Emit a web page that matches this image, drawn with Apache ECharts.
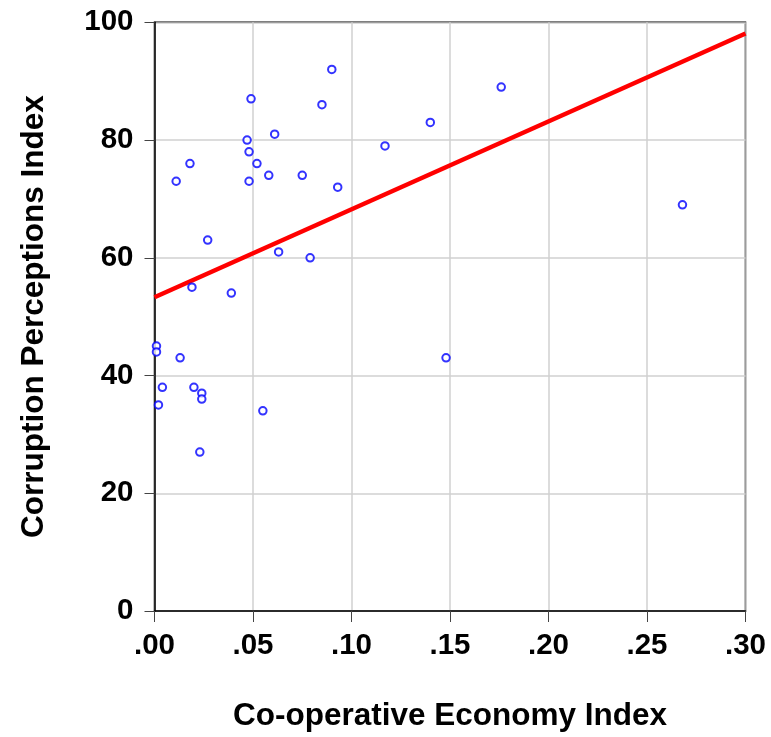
<!DOCTYPE html>
<html>
<head>
<meta charset="utf-8">
<script src="https://cdn.jsdelivr.net/npm/echarts@6/dist/echarts.min.js"></script>
<style>
  html, body { margin: 0; padding: 0; background: #fff; }
  #chart { width: 771px; height: 737px; }
</style>
</head>
<body>
<div id="chart"></div>
<script>
// co-operative economy index (x) and corruption perceptions index (y)
const cei = [0.090, 0.049, 0.085, 0.140, 0.047, 0.061, 0.117, 0.048, 0.018, 0.052,
             0.011, 0.048, 0.058, 0.075, 0.093, 0.027, 0.063, 0.079, 0.019, 0.039,
             0.176, 0.268, 0.001, 0.001, 0.013, 0.148, 0.004, 0.020, 0.024, 0.024,
             0.002, 0.055, 0.023];
const cpi = [92, 87, 86, 83, 80, 81, 79, 78, 76, 76,
             73, 73, 74, 74, 72, 63, 61, 60, 55, 54,
             89, 69, 45, 44, 43, 43, 38, 38, 37, 36,
             35, 34, 27];
// fitted line end points
const fitX = [0, 0.30];
const fitY = [53.3, 98.1];

const xTicks = { min: 0, max: 0.30, step: 0.05 };
const yTicks = { min: 0, max: 100, step: 20 };

const font = 'Liberation Sans, Arial, sans-serif';

const chart = echarts.init(document.getElementById('chart'));
chart.setOption({
  animation: false,
  grid: {
    left: 154.5, right: 25.5, top: 22.3, bottom: 124.7,
    show: true, borderColor: '#000', borderWidth: 1.5
  },
  xAxis: {
    type: 'value',
    min: xTicks.min, max: xTicks.max, interval: xTicks.step,
    name: 'Co-operative Economy Index',
    nameLocation: 'middle',
    nameGap: 89,
    nameTextStyle: { fontFamily: font, fontWeight: 'bold', fontSize: 31.5, color: '#000' },
    axisLine: { show: true, lineStyle: { color: '#000', width: 1.5 } },
    axisTick: { show: true, length: 11, lineStyle: { color: '#444' } },
    axisLabel: {
      margin: 20, fontFamily: font, fontWeight: 'bold', fontSize: 29.5, color: '#000',
      formatter: v => v.toFixed(2).replace(/^0/, '')
    },
    splitLine: { show: true, lineStyle: { color: '#d0d0d0', width: 1.5 } }
  },
  yAxis: {
    type: 'value',
    min: yTicks.min, max: yTicks.max, interval: yTicks.step,
    name: 'Corruption Perceptions Index',
    nameLocation: 'middle',
    nameGap: 104,
    nameTextStyle: { fontFamily: font, fontWeight: 'bold', fontSize: 31.5, color: '#000' },
    axisLine: { show: true, lineStyle: { color: '#000', width: 1.5 } },
    axisTick: { show: true, length: 10, lineStyle: { color: '#444' } },
    axisLabel: { margin: 21, fontFamily: font, fontWeight: 'bold', fontSize: 29.5, color: '#000' },
    splitLine: { show: true, lineStyle: { color: '#d0d0d0', width: 1.5 } }
  },
  series: [
    {
      type: 'line',
      data: fitX.map((x, i) => [x, fitY[i]]),
      symbol: 'none',
      lineStyle: { color: '#ff0000', width: 4.5 },
      z: 2
    },
    {
      type: 'scatter',
      data: cei.map((x, i) => [x, cpi[i]]),
      symbol: 'circle',
      symbolSize: 7.5,
      itemStyle: { color: '#fff', borderColor: '#0000ff', borderWidth: 2 },
      z: 3
    }
  ]
});
</script>
</body>
</html>
